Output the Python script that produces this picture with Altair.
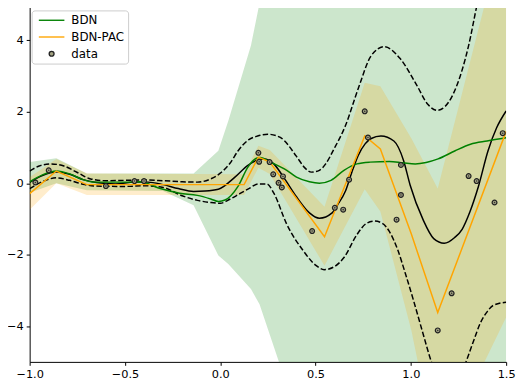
import altair as alt
import pandas as pd

# ---------------- data ----------------
# ground-truth function (black solid)
true_x = [-1.00, -0.93, -0.86, -0.79, -0.72, -0.65, -0.55, -0.45, -0.38, -0.30, -0.22, -0.14,
          -0.08, -0.01, 0.077, 0.145, 0.196, 0.23, 0.281, 0.332, 0.40, 0.468, 0.52, 0.587,
          0.615, 0.657, 0.69, 0.724, 0.76, 0.792, 0.843, 0.911, 0.962, 0.996, 1.064, 1.12,
          1.175, 1.23, 1.269, 1.31, 1.354, 1.405, 1.45, 1.50]
true_y = [0.02, 0.22, 0.31, 0.25, 0.10, 0.02, -0.02, 0.03, 0.03, -0.04, -0.15, -0.23,
          -0.22, -0.17, 0.17, 0.50, 0.65, 0.68, 0.54, 0.17, -0.38, -0.83, -0.98, -0.83,
          -0.61, -0.22, 0.30, 0.78, 1.10, 1.25, 1.32, 1.18, 0.63, -0.05, -1.02, -1.55,
          -1.68, -1.52, -1.29, -0.80, -0.10, 0.91, 1.55, 2.02]

# noise envelope (black dashed)
upper_x = [-1.00, -0.95, -0.89, -0.82, -0.75, -0.68, -0.60, -0.50, -0.40, -0.30, -0.20, -0.12,
           -0.05, 0.00, 0.05, 0.094, 0.15, 0.196, 0.25, 0.315, 0.40, 0.44, 0.478, 0.52, 0.553,
           0.596, 0.656, 0.724, 0.792, 0.86, 0.945, 1.03, 1.09, 1.138, 1.18, 1.235, 1.303,
           1.349, 1.40, 1.50]
upper_y = [0.34, 0.48, 0.54, 0.48, 0.30, 0.12, 0.07, 0.08, 0.09, 0.07, 0.04, 0.03,
           0.12, 0.28, 0.55, 0.91, 1.22, 1.32, 1.37, 1.28, 0.75, 0.45, 0.31, 0.36, 0.54,
           0.95, 1.60, 2.65, 3.57, 3.82, 3.48, 2.75, 2.20, 2.04, 2.15, 2.65, 3.85,
           5.04, 6.20, 7.50]
lower_x = [-1.00, -0.93, -0.86, -0.79, -0.72, -0.65, -0.50, -0.40, -0.30, -0.20, -0.12, -0.05,
           0.00, 0.05, 0.10, 0.15, 0.20, 0.245, 0.281, 0.349, 0.434, 0.502, 0.545, 0.60,
           0.649, 0.717, 0.768, 0.81, 0.85, 0.887, 0.93, 0.972, 1.015, 1.058, 1.109, 1.17,
           1.23, 1.288, 1.33, 1.364, 1.40, 1.432, 1.50]
lower_y = [-0.15, 0.05, 0.15, 0.08, -0.03, -0.08, -0.09, -0.07, -0.12, -0.35, -0.48, -0.54,
           -0.56, -0.45, -0.30, -0.15, -0.02, -0.02, -0.28, -1.15, -1.88, -2.30, -2.42, -2.33,
           -2.08, -1.44, -1.12, -1.06, -1.12, -1.35, -1.85, -2.54, -3.30, -4.10, -5.02, -5.80,
           -5.80, -5.02, -4.40, -3.92, -3.60, -3.42, -3.33]

# BDN mean (green) and its band
bdn_x = [-1.00, -0.93, -0.86, -0.79, -0.72, -0.66, -0.50, -0.42, -0.315, -0.213, -0.12, -0.05,
         -0.009, 0.025, 0.094, 0.145, 0.19, 0.21, 0.264, 0.349, 0.40, 0.468, 0.52, 0.581,
         0.649, 0.717, 0.785, 0.887, 0.96, 1.023, 1.08, 1.143, 1.23, 1.313, 1.40, 1.50]
bdn_y = [0.04, 0.24, 0.34, 0.26, 0.10, 0.03, 0.03, 0.04, -0.15, -0.28, -0.34, -0.44,
         -0.51, -0.47, -0.08, 0.45, 0.70, 0.72, 0.59, 0.36, 0.17, 0.04, 0.00, 0.08,
         0.36, 0.54, 0.59, 0.61, 0.57, 0.54, 0.58, 0.68, 0.90, 1.09, 1.18, 1.27]
bdn_band_x = [-1.00, -0.86, -0.70, -0.30, -0.14, -0.01, 0.042, 0.161, 0.206, 0.308, 0.60, 1.50]
bdn_band_lo = [-0.27, 0.00, -0.20, -0.22, -0.62, -2.02, -2.26, -2.96, -3.39, -5.00, -14.0, -16.0]
bdn_band_hi = [0.59, 0.70, 0.27, 0.27, 0.27, 0.91, 1.74, 3.85, 5.04, 7.70, 14.0, 16.0]

# BDN-PAC mean (orange) and its band
pac_x = [-1.00, -0.86, -0.70, 0.125, 0.20, 0.26, 0.547, 0.758, 0.84, 1.003, 1.141, 1.50]
pac_y = [-0.29, 0.34, -0.04, -0.04, 0.73, 0.59, -1.50, 1.32, 0.96, -1.43, -3.62, 1.45]
pac_lo = [-0.74, 0.00, -0.33, -0.33, 0.43, 0.26, -2.31, -0.17, -0.79, -4.13, -7.70, -3.75]
pac_hi = [0.17, 0.68, 0.27, 0.25, 1.05, 0.93, -0.66, 2.81, 2.71, 1.25, -0.15, 7.35]

# observations
data_x = [-0.97, -0.90, -0.60, -0.45, -0.40, 0.20, 0.204, 0.259, 0.278, 0.306, 0.323, 0.329,
          0.482, 0.601, 0.645, 0.676, 0.758, 0.775, 0.925, 0.948, 0.948, 1.141, 1.214,
          1.303, 1.345, 1.439, 1.482]
data_y = [0.02, 0.36, -0.08, 0.06, 0.06, 0.85, 0.60, 0.59, 0.25, 0.01, -0.12, 0.19,
          -1.34, -0.69, -0.74, 0.10, 2.01, 1.28, -1.02, 0.51, -0.33, -4.12, -3.08,
          0.20, 0.06, -0.54, 1.40]

series = ["BDN", "BDN-PAC", "data"]
x_ticks = [-1.0, -0.5, 0.0, 0.5, 1.0, 1.5]
y_ticks = [-4, -2, 0, 2, 4]

# ---------------- tables ----------------
df_true = pd.DataFrame({"x": true_x, "y": true_y})
df_env = pd.concat([
    pd.DataFrame({"x": upper_x, "y": upper_y, "part": "upper"}),
    pd.DataFrame({"x": lower_x, "y": lower_y, "part": "lower"}),
])
df_bdn = pd.DataFrame({"x": bdn_x, "y": bdn_y, "series": "BDN"})
df_pac = pd.DataFrame({"x": pac_x, "y": pac_y, "series": "BDN-PAC"})
df_bdn_band = pd.DataFrame({"x": bdn_band_x, "lo": bdn_band_lo, "hi": bdn_band_hi})
df_pac_band = pd.DataFrame({"x": pac_x, "lo": pac_lo, "hi": pac_hi})
df_data = pd.DataFrame({"x": data_x, "y": data_y, "series": "data"})

# ---------------- encodings ----------------
FONT = "DejaVu Sans"
xs = alt.Scale(domain=[-1, 1.5], nice=False, zero=False)
ys = alt.Scale(domain=[-5, 5], nice=False, zero=False)
xax = alt.Axis(values=x_ticks, format=".1f", title=None, labelFlush=False, labelOverlap=False)
yax = alt.Axis(values=y_ticks, format="d", title=None, labelOverlap=False)
X = alt.X("x:Q", scale=xs, axis=xax)

LINE_PATH = "M-5.3,0L5.3,0"
RING_FILL = "#a3a382"
legend = alt.Legend(
    title=None, orient="none", legendX=2, legendY=6,
    padding=4, rowPadding=5.0, symbolOffset=10.3, labelOffset=14,
    symbolSize=24, symbolStrokeWidth=1.4, symbolFillColor=RING_FILL,
    labelFont=FONT, labelFontSize=12, labelColor="black",
    fillColor="rgba(255,255,255,0.8)", strokeColor="#cccccc", cornerRadius=3,
)
stroke_enc = alt.Stroke("series:N", scale=alt.Scale(domain=series, range=["green", "orange", "#222222"]),
                        legend=legend)
shape_enc = alt.Shape("series:N", scale=alt.Scale(domain=series, range=[LINE_PATH, LINE_PATH, "circle"]),
                      legend=legend)

band_bdn = alt.Chart(df_bdn_band).mark_area(color="green", opacity=0.2, clip=True).encode(
    x=X, y=alt.Y("lo:Q", scale=ys, axis=yax), y2="hi:Q")
band_pac = alt.Chart(df_pac_band).mark_area(color="orange", opacity=0.2, clip=True).encode(
    x=X, y=alt.Y("lo:Q", scale=ys, axis=yax), y2="hi:Q")
env = alt.Chart(df_env).mark_line(color="black", strokeWidth=1.5, strokeDash=[5.5, 2.4],
                                  interpolate="monotone", clip=True).encode(
    x=X, y=alt.Y("y:Q", scale=ys, axis=yax), detail="part:N")
truth = alt.Chart(df_true).mark_line(color="black", strokeWidth=1.5, interpolate="monotone",
                                     clip=True).encode(
    x=X, y=alt.Y("y:Q", scale=ys, axis=yax))
bdn = alt.Chart(df_bdn).mark_line(strokeWidth=1.5, interpolate="monotone", clip=True).encode(
    x=X, y=alt.Y("y:Q", scale=ys, axis=yax), stroke=stroke_enc)
pac = alt.Chart(df_pac).mark_line(strokeWidth=1.5, clip=True).encode(
    x=X, y=alt.Y("y:Q", scale=ys, axis=yax), stroke=stroke_enc)
pts = alt.Chart(df_data).mark_point(size=24, strokeWidth=1.2, fill=RING_FILL, fillOpacity=1,
                                    opacity=1, clip=True).encode(
    x=X, y=alt.Y("y:Q", scale=ys, axis=yax), stroke=stroke_enc, shape=shape_enc)
dots = alt.Chart(df_data).mark_circle(size=2.5, color="#333333", opacity=1, clip=True).encode(
    x=X, y=alt.Y("y:Q", scale=ys, axis=yax))

layered = alt.layer(band_bdn, band_pac, env, truth, bdn, pac, pts, dots)


def finish(ch, pad_top, h):
    return ch.properties(
        width=484, height=h,
        padding={"left": 22, "top": pad_top, "right": 10, "bottom": 19.5},
        autosize=alt.AutoSizeParams(type="none"),
    ).configure_view(strokeWidth=0).configure_axis(
        grid=False, domainColor="black", domainWidth=1, tickColor="black", tickWidth=1,
        tickSize=3.5, labelFont=FONT, labelFontSize=11.5, labelColor="black", labelPadding=3,
    )


try:
    chart = finish(layered, -6.5, 363)
    chart.to_dict()
except Exception:
    chart = finish(layered, 0, 356.5)

chart.save("out.html", embed_options={"renderer": "svg", "actions": False})
